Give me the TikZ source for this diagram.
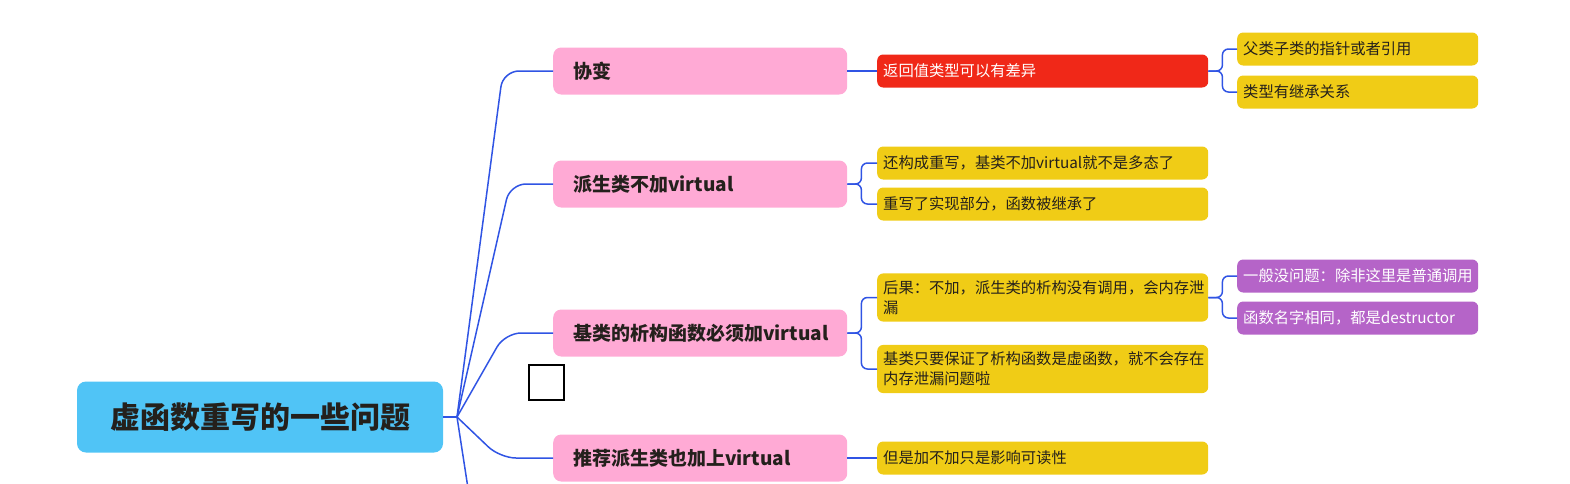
\documentclass[tikz,border=0pt]{standalone}
\usepackage{fontspec}
\setmainfont{Noto Sans CJK SC}
\definecolor{rootblue}{RGB}{80,196,246}
\definecolor{topicpink}{RGB}{255,170,213}
\definecolor{alertred}{RGB}{240,40,24}
\definecolor{notegold}{RGB}{240,204,22}
\definecolor{notepurple}{RGB}{181,100,200}
\definecolor{linkblue}{RGB}{48,84,228}
\definecolor{inkgray}{RGB}{36,32,28}
\begin{document}
\begin{tikzpicture}[x=1pt,y=-1pt,
  rootbox/.style={fill=rootblue,rounded corners=9pt,minimum width=366pt,minimum height=71pt,
    font=\fontsize{30}{36}\selectfont\bfseries,text=inkgray},
  topic/.style={fill=topicpink,rounded corners=8pt,anchor=west,text width=254pt,inner xsep=20pt,
    minimum height=47pt,align=left,font=\fontsize{19}{24}\selectfont\bfseries,text=inkgray},
  note/.style={fill=notegold,rounded corners=6pt,anchor=west,text width=319pt,inner xsep=6pt,
    inner ysep=7pt,minimum height=33pt,align=left,font=\fontsize{15.3}{20}\selectfont,text=inkgray},
  leaf/.style={note,text width=229pt},
  link/.style={draw=linkblue,line width=1.5pt,rounded corners=16pt},
  fork/.style={link,rounded corners=6pt}]
  \clip (0,0) rectangle (1570,483);
  % central topic
  \node[rootbox] (root) at (260,417) {虚函数重写的一些问题};
  \coordinate (hub) at (457,417);
  \coordinate (more) at (476,540);
  % first level
  \node[topic] (cov) at (553,71) {协变};
  \node[topic] (der) at (553,184) {派生类不加virtual};
  \node[topic] (dtor) at (553,333) {基类的析构函数必须加virtual};
  \node[topic] (rec) at (553,458) {推荐派生类也加上virtual};
  % second level
  \node[note,fill=alertred,text=white] (ret) at (877,71) {返回值类型可以有差异};
  \node[note] (still) at (877,163) {还构成重写，基类不加virtual就不是多态了};
  \node[note] (impl) at (877,204) {重写了实现部分，函数被继承了};
  \node[note] (leak) at (877,297.5) {后果：不加，派生类的析构没有调用，会内存泄\\漏};
  \node[note] (safe) at (877,369) {基类只要保证了析构函数是虚函数，就不会存在\\内存泄漏问题啦};
  \node[note] (read) at (877,458) {但是加不加只是影响可读性};
  % third level
  \node[leaf] (ptr) at (1237,49) {父类子类的指针或者引用};
  \node[leaf] (inh) at (1237,92) {类型有继承关系};
  \node[leaf,fill=notepurple,text=white] (usual) at (1237,276) {一般没问题：除非这里是普通调用};
  \node[leaf,fill=notepurple,text=white] (same) at (1237,318) {函数名字相同，都是destructor};
  % empty box
  \draw[line width=1.3pt,fill=white] (529,365) rectangle (564,400);
  % connectors
  \draw[link] (root.east) -- (hub);
  \draw[link] (hub) -- ([xshift=-50pt]cov.west) -- (cov.west);
  \draw[link] (hub) -- ([xshift=-43pt]der.west) -- (der.west);
  \draw[link] (hub) -- ([xshift=-48pt]dtor.west) -- (dtor.west);
  \draw[link] (hub) -- ([xshift=-53pt]rec.west) -- (rec.west);
  \draw[link] (hub) -- (more);
  \draw[link] (cov.east) -- (ret.west);
  \draw[fork] (der.east) -- ++(14,0) |- (still.west);
  \draw[fork] (der.east) -- ++(14,0) |- (impl.west);
  \draw[fork] (dtor.east) -- ++(14,0) |- (leak.west);
  \draw[fork] (dtor.east) -- ++(14,0) |- (safe.west);
  \draw[link] (rec.east) -- (read.west);
  \draw[fork] (ret.east) -- ++(14,0) |- (ptr.west);
  \draw[fork] (ret.east) -- ++(14,0) |- (inh.west);
  \draw[fork] (leak.east) -- ++(14,0) |- (usual.west);
  \draw[fork] (leak.east) -- ++(14,0) |- (same.west);
\end{tikzpicture}
\end{document}
